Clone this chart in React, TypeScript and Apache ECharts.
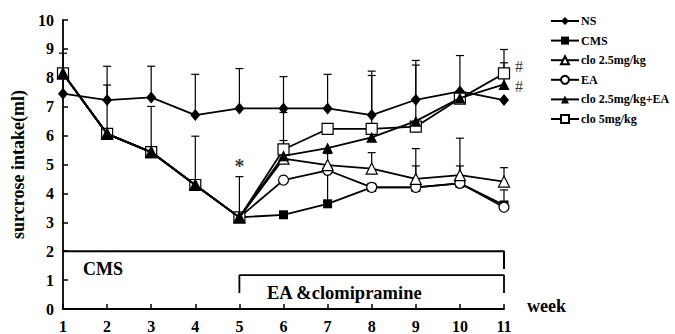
import React, { useEffect, useRef } from "react";
import * as echarts from "echarts";

const weeks = [1, 2, 3, 4, 5, 6, 7, 8, 9, 10, 11];
const nsVals = [7.45, 7.23, 7.32, 6.71, 6.94, 6.94, 6.94, 6.71, 7.24, 7.53, 7.23];
const cmsVals = [8.15, 6.06, 5.43, 4.29, 3.17, 3.26, 3.64, 4.21, 4.21, 4.35, 3.6];
const clo25Vals = [8.15, 6.06, 5.43, 4.29, 3.17, 5.2, 4.98, 4.86, 4.5, 4.63, 4.41];
const eaVals = [8.15, 6.06, 5.43, 4.29, 3.17, 4.46, 4.8, 4.21, 4.21, 4.35, 3.52];
const clo25EaVals = [8.15, 6.06, 5.43, 4.29, 3.17, 5.3, 5.57, 5.94, 6.5, 7.3, 7.77];
const clo5Vals = [8.15, 6.06, 5.43, 4.29, 3.17, 5.52, 6.23, 6.23, 6.31, 7.28, 8.15];

// upward error (SD) per week, null where no bar is visible
const nsErr = [1.4, 1.17, 1.08, 1.41, 1.38, 1.1, 1.18, 1.52, 1.36, 1.24, null];
const cmsErr = [null, 1.69, 1.58, 1.69, 1.41, null, 1.2, null, null, null, 0.52];
const clo25Err = [null, null, null, null, null, 0.63, 0.4, 0.55, 1.05, 1.28, 0.48];
const eaErr = [null, null, null, null, null, null, null, null, 0.74, 0.6, null];
const clo25EaErr = [null, null, null, null, null, null, null, null, null, null, 0.75];
const clo5Err = [null, null, null, null, null, 1.28, null, 1.85, 2.13, null, 0.83];

const yTicks = [0, 1, 2, 3, 4, 5, 6, 7, 8, 9, 10];

// annotations: [week, value, text]
const marks: [number, number, string][] = [
  [5, 4.95, "*"],
  [11, 8.4, "#"],
  [11, 7.7, "#"],
];

// period brackets in data units
const cmsBracket = [[1, 2], [11, 2], [11, 1.38]];
const eaBracket = [[5, 0.55], [5, 1.17], [11, 1.17], [11, 0.55]];

const FONT = "'Liberation Serif', 'Times New Roman', serif";

export default function App() {
  const ref = useRef<HTMLDivElement>(null);
  useEffect(() => {
    if (!ref.current) return;
    const chart = echarts.init(ref.current, undefined, { renderer: "svg" });

    const mk = (vals: number[]) => weeks.map((w, i) => [w, vals[i]]);
    const errData = (vals: number[], errs: (number | null)[]) =>
      weeks
        .map((w, i) => (errs[i] == null ? null : [w, vals[i], errs[i] as number]))
        .filter((d) => d !== null) as number[][];

    const errSeries = (vals: number[], errs: (number | null)[]) => ({
      type: "custom",
      z: 1,
      silent: true,
      renderItem: (params: any, api: any) => {
        const x = api.value(0);
        const m = api.value(1);
        const e = api.value(2);
        const p0 = api.coord([x, m]);
        const p1 = api.coord([x, m + e]);
        return {
          type: "group",
          children: [
            {
              type: "line",
              shape: { x1: p0[0], y1: p0[1], x2: p1[0], y2: p1[1] },
              style: { stroke: "#000", lineWidth: 1.2 },
            },
            {
              type: "line",
              shape: { x1: p1[0] - 4, y1: p1[1], x2: p1[0] + 4, y2: p1[1] },
              style: { stroke: "#000", lineWidth: 1.2 },
            },
          ],
        };
      },
      data: errData(vals, errs),
    });

    const lineSeries = (
      name: string,
      vals: number[],
      symbol: string,
      size: number | number[],
      filled: boolean,
      z: number
    ) => ({
      name,
      type: "line",
      data: mk(vals),
      symbol,
      symbolSize: size,
      showSymbol: true,
      z,
      lineStyle: { color: "#000", width: 1.8 },
      itemStyle: {
        color: filled ? "#000" : "#fff",
        borderColor: "#000",
        borderWidth: filled ? 0 : 1.2,
      },
    });

    chart.setOption({
      animation: false,
      grid: { left: 63, right: 171, top: 20, bottom: 22, containLabel: false },
      legend: {
        orient: "vertical",
        left: 545,
        top: 9,
        itemWidth: 28,
        itemHeight: 10,
        itemGap: 5.6,
        data: ["NS", "CMS", "clo 2.5mg/kg", "EA", "clo 2.5mg/kg+EA", "clo 5mg/kg"],
        textStyle: {
          fontFamily: FONT,
          fontWeight: "bold",
          fontSize: 12,
          color: "#000",
          padding: [0, 0, 0, -3],
          lineHeight: 14,
        },
      },
      xAxis: {
        type: "value",
        min: 1,
        max: 11,
        interval: 1,
        axisLine: { lineStyle: { color: "#000", width: 1.8 } },
        axisTick: { inside: true, length: 5, lineStyle: { color: "#000", width: 1.5 } },
        axisLabel: { fontFamily: FONT, fontWeight: "bold", fontSize: 16, color: "#000", margin: 9 },
        splitLine: { show: false },
      },
      yAxis: {
        type: "value",
        min: 0,
        max: 10,
        interval: 1,
        name: "surcrose intake(ml)",
        nameLocation: "middle",
        nameGap: 33,
        nameTextStyle: { fontFamily: FONT, fontWeight: "bold", fontSize: 18, color: "#000" },
        axisLine: { show: true, lineStyle: { color: "#000", width: 1.8 } },
        axisTick: { show: true, inside: true, length: 5, lineStyle: { color: "#000", width: 1.5 } },
        axisLabel: {
          fontFamily: FONT,
          fontWeight: "bold",
          fontSize: 16,
          color: "#000",
          margin: 9,
          formatter: (v: number) => (yTicks.includes(v) ? String(v) : ""),
        },
        splitLine: { show: false },
      },
      graphic: [
        { type: "text", left: 83, top: 260, style: { text: "CMS", font: `bold 18px ${FONT}`, fill: "#000" } },
        { type: "text", left: 267, top: 283, style: { text: "EA &clomipramine", font: `bold 18.5px ${FONT}`, fill: "#000" } },
        { type: "text", left: 527, top: 297, style: { text: "week", font: `bold 18px ${FONT}`, fill: "#000" } },
      ],
      series: [
        errSeries(nsVals, nsErr),
        errSeries(cmsVals, cmsErr),
        errSeries(clo25Vals, clo25Err),
        errSeries(eaVals, eaErr),
        errSeries(clo25EaVals, clo25EaErr),
        errSeries(clo5Vals, clo5Err),
        lineSeries("NS", nsVals, "diamond", [10, 12], true, 5),
        lineSeries("CMS", cmsVals, "rect", 9, true, 3),
        lineSeries("EA", eaVals, "circle", 10, false, 4),
        lineSeries("clo 5mg/kg", clo5Vals, "rect", 11, false, 5),
        lineSeries("clo 2.5mg/kg", clo25Vals, "triangle", 11, false, 6),
        lineSeries("clo 2.5mg/kg+EA", clo25EaVals, "triangle", 11, true, 7),
        {
          type: "line",
          data: cmsBracket,
          symbol: "none",
          lineStyle: { color: "#000", width: 2 },
          z: 2,
          silent: true,
        },
        {
          type: "line",
          data: eaBracket,
          symbol: "none",
          lineStyle: { color: "#000", width: 1.8 },
          z: 2,
          silent: true,
        },
        {
          type: "scatter",
          data: marks.map((m, i) => ({
            value: [m[0], m[1], m[2]],
            label:
              i === 0
                ? { fontSize: 20, fontWeight: "bold", offset: [0, 0] }
                : { fontSize: 16, fontWeight: "normal", offset: [15, 0] },
          })),
          symbolSize: 0,
          silent: true,
          z: 8,
          label: {
            show: true,
            formatter: (p: any) => p.value[2],
            position: "inside",
            fontFamily: FONT,
            color: "#000",
          },
        },
      ],
    });
    return () => chart.dispose();
  }, []);
  return (
    <div
      ref={ref}
      style={{ width: 675, height: 334, position: "absolute", left: 0, top: 0 }}
    />
  );
}
